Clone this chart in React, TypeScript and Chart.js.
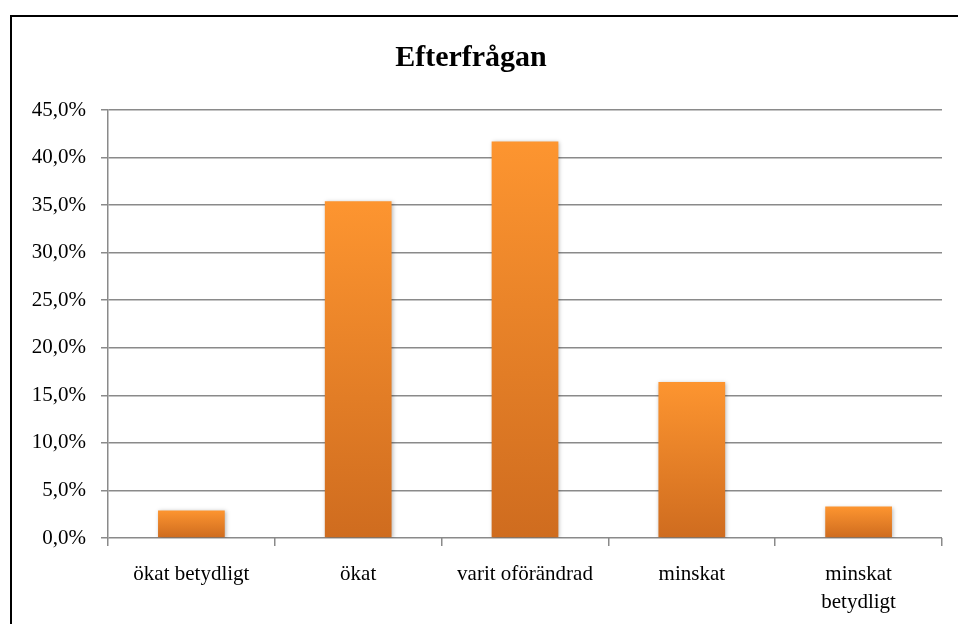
import React, { useEffect, useRef } from "react";
import { Chart, registerables } from "chart.js";

Chart.register(...registerables);

const categories: (string | string[])[] = [
  "ökat betydligt",
  "ökat",
  "varit oförändrad",
  "minskat",
  ["minskat", "betydligt"],
];
const values: number[] = [2.9, 35.4, 41.7, 16.4, 3.3];
const chartTitle = "Efterfrågan";
const yMin = 0;
const yMax = 45;
const yStep = 5;

const FONT = "'Liberation Serif', 'Times New Roman', serif";
const GRID = "#8a8a8a";

const gradientPlugin = {
  id: "barGradient",
  beforeDatasetDraw(chart: any, args: any) {
    const ctx = chart.ctx;
    const meta = args.meta;
    meta.data.forEach((el: any) => {
      const g = ctx.createLinearGradient(0, el.y, 0, el.base);
      g.addColorStop(0, "#FD9530");
      g.addColorStop(1, "#CF6C1F");
      el.options = Object.assign({}, el.options, { backgroundColor: g });
    });
    ctx.save();
    ctx.shadowColor = "rgba(0,0,0,0.28)";
    ctx.shadowBlur = 4;
    ctx.shadowOffsetX = 1;
    ctx.shadowOffsetY = 1;
  },
  afterDatasetDraw(chart: any) {
    chart.ctx.restore();
  },
};

export default function App() {
  const ref = useRef<HTMLCanvasElement>(null);
  useEffect(() => {
    if (!ref.current) return;
    const chart = new Chart(ref.current, {
      type: "bar",
      data: {
        labels: categories,
        datasets: [
          {
            data: values,
            backgroundColor: "#F08A2A",
            borderWidth: 0,
            barPercentage: 0.4,
            categoryPercentage: 1,
          },
        ],
      },
      plugins: [gradientPlugin],
      options: {
        animation: false,
        responsive: false,
        maintainAspectRatio: false,
        layout: { padding: { left: 0, right: 16, top: 10, bottom: 6 } },
        plugins: {
          legend: { display: false },
          tooltip: { enabled: false },
          title: {
            display: true,
            text: chartTitle,
            color: "#000",
            font: { family: FONT, size: 30, weight: "bold", lineHeight: 1.2 },
            padding: { top: 30, bottom: 34 },
          },
        },
        scales: {
          x: {
            offset: true,
            grid: {
              display: true,
              drawOnChartArea: false,
              drawTicks: true,
              tickLength: 8,
              offset: true,
              color: GRID,
              lineWidth: 1.5,
            },
            border: { display: false },
            ticks: {
              color: "#000",
              font: { family: FONT, size: 21, lineHeight: 1.33 },
              padding: 15,
              maxRotation: 0,
              autoSkip: false,
            },
            afterFit: (s: any) => {
              s.height = 80;
            },
          },
          y: {
            min: yMin,
            max: yMax,
            grid: {
              color: GRID,
              lineWidth: 1.5,
              drawTicks: true,
              tickLength: 7,
            },
            border: { display: true, color: GRID, width: 1.5 },
            ticks: {
              stepSize: yStep,
              color: "#000",
              font: { family: FONT, size: 21 },
              padding: 15,
              callback: (v: any) => Number(v).toFixed(1).replace(".", ",") + "%",
            },
            afterFit: (s: any) => {
              s.width = 108;
            },
          },
        },
      },
    });
    return () => chart.destroy();
  }, []);

  return (
    <div style={{ position: "absolute", left: 0, top: 0, width: 958, height: 624, overflow: "hidden", background: "#fff" }}>
      <div
        style={{
          position: "absolute",
          left: 10,
          top: 15,
          width: 960,
          height: 640,
          border: "2px solid #000",
        }}
      />
      <canvas ref={ref} width={958} height={624} style={{ position: "absolute", left: 0, top: 0, width: 958, height: 624 }} />
    </div>
  );
}
